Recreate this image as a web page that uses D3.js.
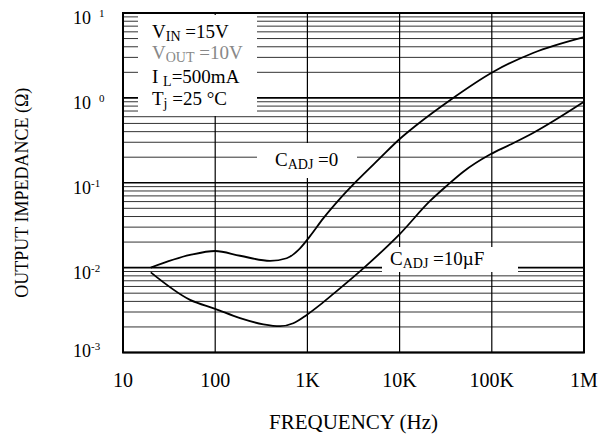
<!DOCTYPE html>
<html>
<head>
<meta charset="utf-8">
<script src="https://cdn.jsdelivr.net/npm/d3@7"></script>
<style>
  body { margin: 0; background: #fff; }
  text { font-family: "Liberation Serif", "Times New Roman", serif; fill: #000; }
</style>
</head>
<body>
<div id="container"></div>
<script>
/* CONSTANTS AND GLOBALS */
const width = 615,
  height = 439,
  margin = {top: 13, bottom: 86.5, left: 123, right: 31};

/* DATA (frequency in Hz, impedance in ohms) */
const freqCadj0 = [20, 53.4, 100, 186, 393, 596, 832, 1068, 1486, 2259, 3428, 6120, 10090, 15300, 35200, 103000, 280000, 1000000];
const zCadj0 = [0.0100, 0.0141, 0.0157, 0.0138, 0.0120, 0.0129, 0.0169, 0.0235, 0.038, 0.065, 0.105, 0.195, 0.33, 0.48, 0.94, 2.02, 3.38, 5.2];

const freqCadj10 = [20, 53.4, 100, 186, 333, 505, 703, 982, 1370, 1910, 4040, 10090, 21400, 32400, 49100, 95500, 157000, 280000, 1000000];
const zCadj10 = [0.0088, 0.00417, 0.00327, 0.00254, 0.00215, 0.00204, 0.00221, 0.00277, 0.00364, 0.0049, 0.0098, 0.025, 0.061, 0.092, 0.135, 0.215, 0.28, 0.386, 0.9];

const xTicks = [10, 100, 1000, 10000, 100000, 1000000];
const xTickLabels = ["10", "100", "1K", "10K", "100K", "1M"];
const yTicks = [10, 1, 0.1, 0.01, 0.001];
const yExponents = ["1", "0", "-1", "-2", "-3"];

// SCALES
const xScale = d3.scaleLog()
  .domain([10, 1e6])
  .range([margin.left, width - margin.right]);

const yScale = d3.scaleLog()
  .domain([0.001, 10])
  .range([height - margin.bottom, margin.top]);

// CREATE SVG ELEMENT
const svg = d3.select("#container").append("svg")
  .attr("width", width)
  .attr("height", height);

// GRID - horizontal lines at every 1..9 x 10^k, vertical only at decades
const minorY = [];
[0.001, 0.01, 0.1, 1].forEach(dec => {
  for (let m = 1; m < 10; m++) minorY.push(dec * m);
});
minorY.push(10);

svg.append("g")
  .selectAll("line")
  .data(minorY)
  .join("line")
  .attr("x1", margin.left)
  .attr("x2", width - margin.right)
  .attr("y1", d => yScale(d))
  .attr("y2", d => yScale(d))
  .attr("stroke", (d, i) => i % 9 === 0 ? "#000" : "#333")
  .attr("stroke-width", (d, i) => i % 9 === 0 ? 1.6 : 1);

svg.append("g")
  .selectAll("line")
  .data(xTicks.slice(1, -1))
  .join("line")
  .attr("x1", d => xScale(d))
  .attr("x2", d => xScale(d))
  .attr("y1", margin.top)
  .attr("y2", height - margin.bottom)
  .attr("stroke", "#000")
  .attr("stroke-width", 1.2);

// WHITE BOXES behind the notes (they cut the grid in the original)
const boxes = [
  {x: 138, y: 15, w: 119, h: 101},
  {x: 257, y: 143, w: 100, h: 35},
  {x: 382, y: 247, w: 136, h: 25}
];
svg.append("g")
  .selectAll("rect")
  .data(boxes)
  .join("rect")
  .attr("x", d => d.x)
  .attr("y", d => d.y)
  .attr("width", d => d.w)
  .attr("height", d => d.h)
  .attr("fill", "#fff");

// FRAME
svg.append("rect")
  .attr("x", margin.left)
  .attr("y", margin.top)
  .attr("width", width - margin.left - margin.right)
  .attr("height", height - margin.top - margin.bottom)
  .attr("fill", "none")
  .attr("stroke", "#000")
  .attr("stroke-width", 2);

// LINE GENERATOR FUNCTION
const line = d3.line()
  .x(d => xScale(d[0]))
  .y(d => yScale(d[1]))
  .curve(d3.curveMonotoneX);

const series = [
  d3.zip(freqCadj0, zCadj0),
  d3.zip(freqCadj10, zCadj10)
];

// DRAW LINE
svg.append("g")
  .selectAll("path")
  .data(series)
  .join("path")
  .attr("d", d => line(d))
  .attr("fill", "none")
  .attr("stroke", "#000")
  .attr("stroke-width", 1.8);

// AXIS LABELS
svg.append("g")
  .selectAll("text")
  .data(xTicks)
  .join("text")
  .attr("x", d => xScale(d))
  .attr("y", 387)
  .attr("text-anchor", "middle")
  .attr("font-size", 20)
  .text((d, i) => xTickLabels[i]);

const yLab = svg.append("g")
  .selectAll("g")
  .data(yTicks)
  .join("g");

yLab.append("text")
  .attr("x", 91)
  .attr("y", d => Math.min(yScale(d) + 11, 357))
  .attr("text-anchor", "end")
  .attr("font-size", 18)
  .text("10");

yLab.append("text")
  .attr("x", (d, i) => yExponents[i].startsWith("-") ? 91 : 99)
  .attr("y", d => Math.min(yScale(d) + 11, 357) - 7)
  .attr("font-size", 11)
  .text((d, i) => yExponents[i]);

svg.append("text")
  .attr("x", (margin.left + width - margin.right) / 2)
  .attr("y", 429)
  .attr("text-anchor", "middle")
  .attr("font-size", 21)
  .text("FREQUENCY (Hz)");

svg.append("text")
  .attr("transform", `translate(28, ${(margin.top + height - margin.bottom) / 2 + 10}) rotate(-90)`)
  .attr("text-anchor", "middle")
  .attr("font-size", 18)
  .text("OUTPUT IMPEDANCE (Ω)");

// NOTES - main text with smaller, lowered subscripts
const notes = [
  {x: 152, y: 38, parts: [["V"], ["IN", 1], [" =15V"]], color: "#000"},
  {x: 152, y: 59, parts: [["V"], ["OUT", 1], [" =10V"]], color: "#888"},
  {x: 152, y: 83, parts: [["I "], ["L", 1], ["=500mA"]], color: "#000"},
  {x: 152, y: 105, parts: [["T"], ["j", 1], [" =25 °C"]], color: "#000"},
  {x: 275, y: 166, parts: [["C"], ["ADJ", 1], [" =0"]], color: "#000"},
  {x: 390, y: 265, parts: [["C"], ["ADJ", 1], [" =10µF"]], color: "#000"}
];

notes.forEach(n => {
  const t = svg.append("text")
    .attr("x", n.x)
    .attr("y", n.y)
    .attr("font-size", 19)
    .style("white-space", "pre")
    .style("fill", n.color);
  let lowered = false;
  n.parts.forEach(p => {
    const sub = p[1] === 1;
    const dy = sub ? 3 : (lowered ? -3 : 0);
    lowered = sub;
    t.append("tspan")
      .attr("dy", dy)
      .attr("font-size", sub ? 14 : 19)
      .text(p[0]);
  });
});
</script>
</body>
</html>
